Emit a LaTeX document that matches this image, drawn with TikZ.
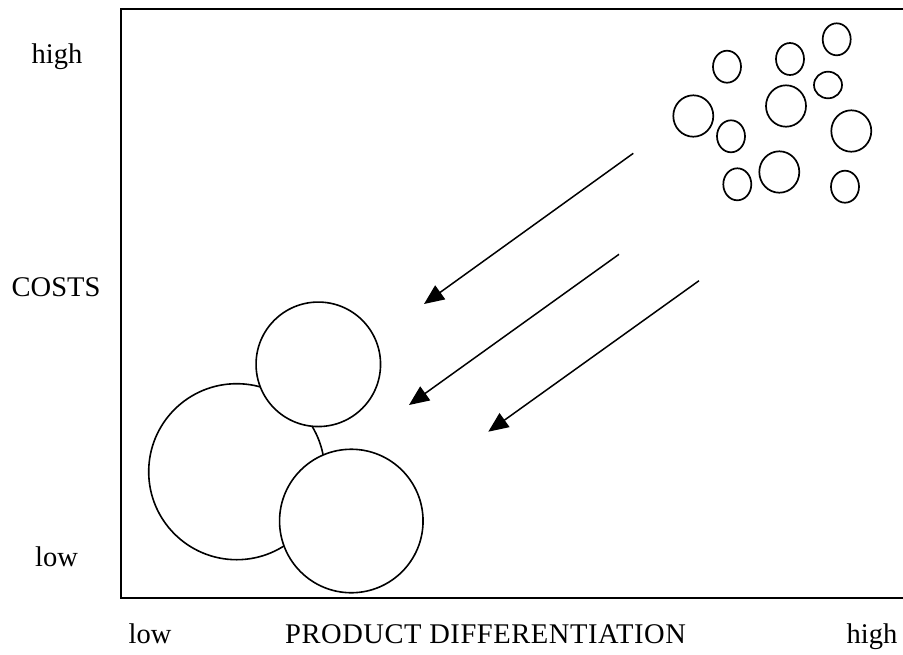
\documentclass[tikz,border=0pt]{standalone}
\usepackage{fontspec}
\setmainfont{Liberation Serif}
\usetikzlibrary{arrows.meta,shapes.geometric}
\begin{document}
\begin{tikzpicture}[x=1pt,y=-1pt,
  lbl/.style={anchor=base west,inner sep=0pt,font=\fontsize{28.5}{33}\selectfont},
  blob/.style={ellipse,draw,fill=white,line width=1.7pt,inner sep=0pt},
  bigc/.style={circle,draw,fill=white,line width=1.6pt,inner sep=0pt},
  mover/.style={line width=1.5pt,-{Triangle[length=20pt,width=17pt]}},
  frameline/.style={line width=1.8pt}]
\useasboundingbox (0,0) rectangle (903,654);
% frame
\draw[frameline] (903,9) -- (121,9) -- (121,598) -- (903,598);
% labels
\node[lbl] (yhigh) at (31.5,63.5) {high};
\node[lbl] (ycosts) at (11.5,296.5) {COSTS};
\node[lbl] (ylow) at (35,566) {low};
\node[lbl] (xlow) at (128.5,643) {low};
\node[lbl] (xtitle) at (285,643) {\addfontfeature{LetterSpace=2}PRODUCT DIFFERENTIATION};
\node[lbl] (xhigh) at (846.5,643) {high};
% small firms cluster
\node[blob,minimum width=28pt,minimum height=32pt] (s1) at (727,66.7) {};
\node[blob,minimum width=28pt,minimum height=32pt] (s2) at (790,59) {};
\node[blob,minimum width=28pt,minimum height=32pt] (s3) at (836.7,39.3) {};
\node[blob,minimum width=28pt,minimum height=26.6pt] (s4) at (828,85) {};
\node[blob,minimum width=40pt,minimum height=41.4pt] (s5) at (693.3,116) {};
\node[blob,minimum width=40pt,minimum height=41.4pt] (s6) at (786,106) {};
\node[blob,minimum width=28pt,minimum height=32pt] (s7) at (731,136.3) {};
\node[blob,minimum width=40pt,minimum height=41.4pt] (s8) at (851.3,131) {};
\node[blob,minimum width=28pt,minimum height=32pt] (s9) at (737.3,184.3) {};
\node[blob,minimum width=40pt,minimum height=41.4pt] (s10) at (779.3,172) {};
\node[blob,minimum width=28pt,minimum height=32pt] (s11) at (845,186.7) {};
% large firms
\node[bigc,minimum size=176pt] (b1) at (236.7,471.7) {};
\node[bigc,minimum size=124.5pt] (b2) at (318.3,364.3) {};
\node[bigc,minimum size=143.5pt] (b3) at (351.3,521) {};
% arrows
\coordinate (a1s) at (633.3,153.3);
\coordinate (a1e) at (424,304);
\coordinate (a2s) at (619,254.3);
\coordinate (a2e) at (409,405);
\coordinate (a3s) at (699,280.7);
\coordinate (a3e) at (488.3,431.7);
\draw[mover] (a1s) -- (a1e);
\draw[mover] (a2s) -- (a2e);
\draw[mover] (a3s) -- (a3e);
\end{tikzpicture}
\end{document}
